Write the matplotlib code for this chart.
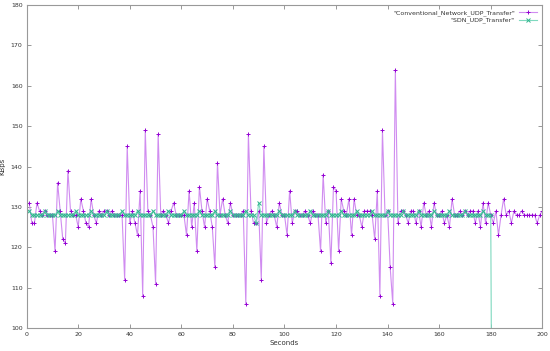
import matplotlib
matplotlib.use("Agg")
import matplotlib.pyplot as plt
import numpy as np

# conventional network, one value per second (1..200)
conv_kbps = [
    131, 126, 126, 131, 129, 128, 129, 128, 128, 128,   # 1-10
    119, 136, 129, 122, 121, 139, 129, 128, 128, 125,   # 11-20
    132, 129, 126, 125, 132, 128, 126, 129, 128, 129,   # 21-30
    129, 128, 129, 128, 128, 128, 128, 112, 145, 126,   # 31-40
    129, 126, 123, 134, 108, 149, 129, 128, 125, 111,   # 41-50
    148, 128, 129, 128, 126, 129, 131, 128, 128, 128,   # 51-60
    128, 123, 134, 125, 131, 119, 135, 129, 125, 132,   # 61-70
    129, 125, 115, 141, 128, 132, 128, 126, 131, 128,   # 71-80
    128, 128, 128, 129, 106, 148, 129, 126, 126, 129,   # 81-90
    112, 145, 126, 128, 129, 128, 125, 131, 128, 128,   # 91-100
    123, 134, 126, 129, 129, 128, 128, 129, 128, 126,   # 101-110
    129, 128, 128, 119, 138, 126, 129, 116, 135, 134,   # 111-120
    119, 132, 129, 128, 132, 123, 132, 128, 128, 125,   # 121-130
    129, 129, 129, 128, 122, 134, 108, 149, 128, 129,   # 131-140
    115, 106, 164, 126, 129, 129, 128, 126, 129, 129,   # 141-150
    126, 129, 125, 131, 128, 129, 125, 131, 128, 128,   # 151-160
    129, 126, 128, 125, 132, 128, 128, 129, 128, 129,   # 161-170
    128, 129, 129, 126, 129, 125, 131, 126, 131, 128,   # 171-180
    126, 129, 123, 128, 132, 128, 129, 126, 129, 128,   # 181-190
    128, 129, 128, 128, 128, 128, 128, 126, 128, 129,   # 191-200
]
conv_sec = list(range(1, len(conv_kbps) + 1))

# SDN: flat 128 with small bumps, link drops at 181 s
sdn_bump_129 = [1, 7, 12, 19, 25, 31, 37, 43, 49, 55, 61, 67, 73, 79, 85,
                98, 104, 110, 117, 122, 128, 134, 140, 146, 152, 158, 164,
                170, 177]
sdn_sec = list(range(1, 182))
sdn_kbps = []
for s in sdn_sec:
    if s == 181:
        sdn_kbps.append(0)
    elif s == 89:
        sdn_kbps.append(126)
    elif s == 90:
        sdn_kbps.append(131)
    elif s in sdn_bump_129:
        sdn_kbps.append(129)
    else:
        sdn_kbps.append(128)

plt.rcParams['font.family'] = ['DejaVu Sans']

fig = plt.figure(figsize=(5.5, 3.51), dpi=100)
ax = fig.add_axes([0.0485, 0.0655, 0.9375, 0.92])

ax.plot(conv_sec, conv_kbps, color='#d08cf0', lw=0.8, marker='+',
        ms=3, mew=0.7, mec='#9400d3',
        label='"Conventional_Network_UDP_Transfer"')
ax.plot(sdn_sec, sdn_kbps, color='#7fd9bf', lw=0.8, marker='x',
        ms=2.5, mew=0.7, mec='#2fb58e',
        label='"SDN_UDP_Transfer"')

ax.set_xlim(0, 200)
ax.set_ylim(100, 180)
ax.set_xticks(np.arange(0, 201, 20))
ax.set_yticks(np.arange(100, 181, 10))
ax.tick_params(direction='in', length=3, width=0.6, top=True, right=True,
               labelsize=4.5, colors='#888888', labelcolor='#333333', pad=3)
for sp in ax.spines.values():
    sp.set_color('#999999')
    sp.set_linewidth(0.8)

ax.set_xlabel('Seconds', fontsize=5, color='#333333', labelpad=2)
ax.set_ylabel('KBps', fontsize=5, color='#333333', labelpad=4)

ax.legend(loc='upper right', frameon=False, markerfirst=False, fontsize=4.5,
          handlelength=3, handletextpad=0.6, labelspacing=0.2,
          borderaxespad=0.4, labelcolor='#333333')

fig.savefig('out.png', dpi=100)
